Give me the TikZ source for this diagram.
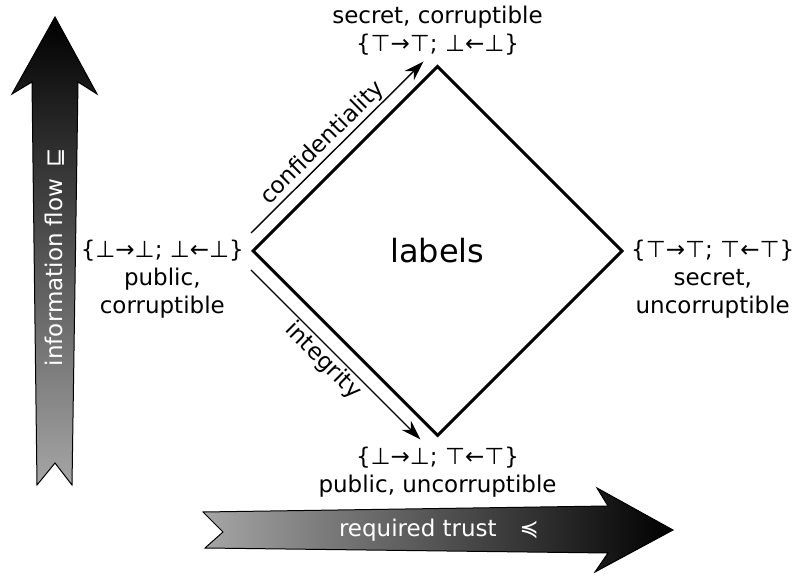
\documentclass[tikz,border=0pt]{standalone}
\usepackage{fontspec}
\setmainfont{DejaVu Sans}
\usetikzlibrary{positioning,shapes.geometric,arrows.meta}
\begin{document}
\begin{tikzpicture}[x=1pt,y=1pt,>={Stealth[length=20pt,width=13pt]},
    font=\fontsize{23}{28}\selectfont,
    vlabel/.style={align=center,inner sep=0pt},
    bigarrow/.style={draw=black,line width=1pt},
    flowtext/.style={text=white}]
    \useasboundingbox (0,0) rectangle (794,575);
    \draw[bigarrow,top color=black,bottom color=black!35] (55,558) -- (97,481) -- (78,493) -- (72,90) -- (55,112) -- (37,90) -- (32,493) -- (12,481) -- cycle;
    \node[flowtext,rotate=90] (flow) at (55,318) {information flow\enspace⊑};
    \draw[bigarrow,left color=black!35,right color=black] (203,63) -- (608,69) -- (597,87) -- (673,45) -- (595,3) -- (608,22) -- (205,27) -- (223,43) -- cycle;
    \node[flowtext] (trust) at (439,45) {required trust\quad≼};
    \node[diamond,draw,line width=3pt,minimum width=370pt,minimum height=370pt,inner sep=0pt,font=\fontsize{32}{38}\selectfont] (lbl) at (437.5,324) {labels};
    \node[vlabel,above=9pt of lbl.north] (top) {secret, corruptible\\\{⊤→⊤; ⊥←⊥\}};
    \node[vlabel,left=7pt of lbl.west,yshift=-28pt] (left) {\{⊥→⊥; ⊥←⊥\}\\public,\\corruptible};
    \node[vlabel,right=7pt of lbl.east,yshift=-28pt] (right) {\{⊤→⊤; ⊤←⊤\}\\secret,\\uncorruptible};
    \node[vlabel,below=9pt of lbl.south] (bottom) {\{⊥→⊥; ⊤←⊤\}\\public, uncorruptible};
    \draw[->,line width=1.4pt] ([yshift=18pt]lbl.west) -- node[pos=.47,above,sloped,inner sep=1.5pt] (conf) {confidentiality} ([shift={(-14pt,3pt)}]lbl.north);
    \draw[->,line width=1.4pt] ([yshift=-19pt]lbl.west) -- node[pos=.48,below,sloped,inner sep=1.5pt] (integ) {integrity} ([shift={(-17pt,-2pt)}]lbl.south);
\end{tikzpicture}
\end{document}
